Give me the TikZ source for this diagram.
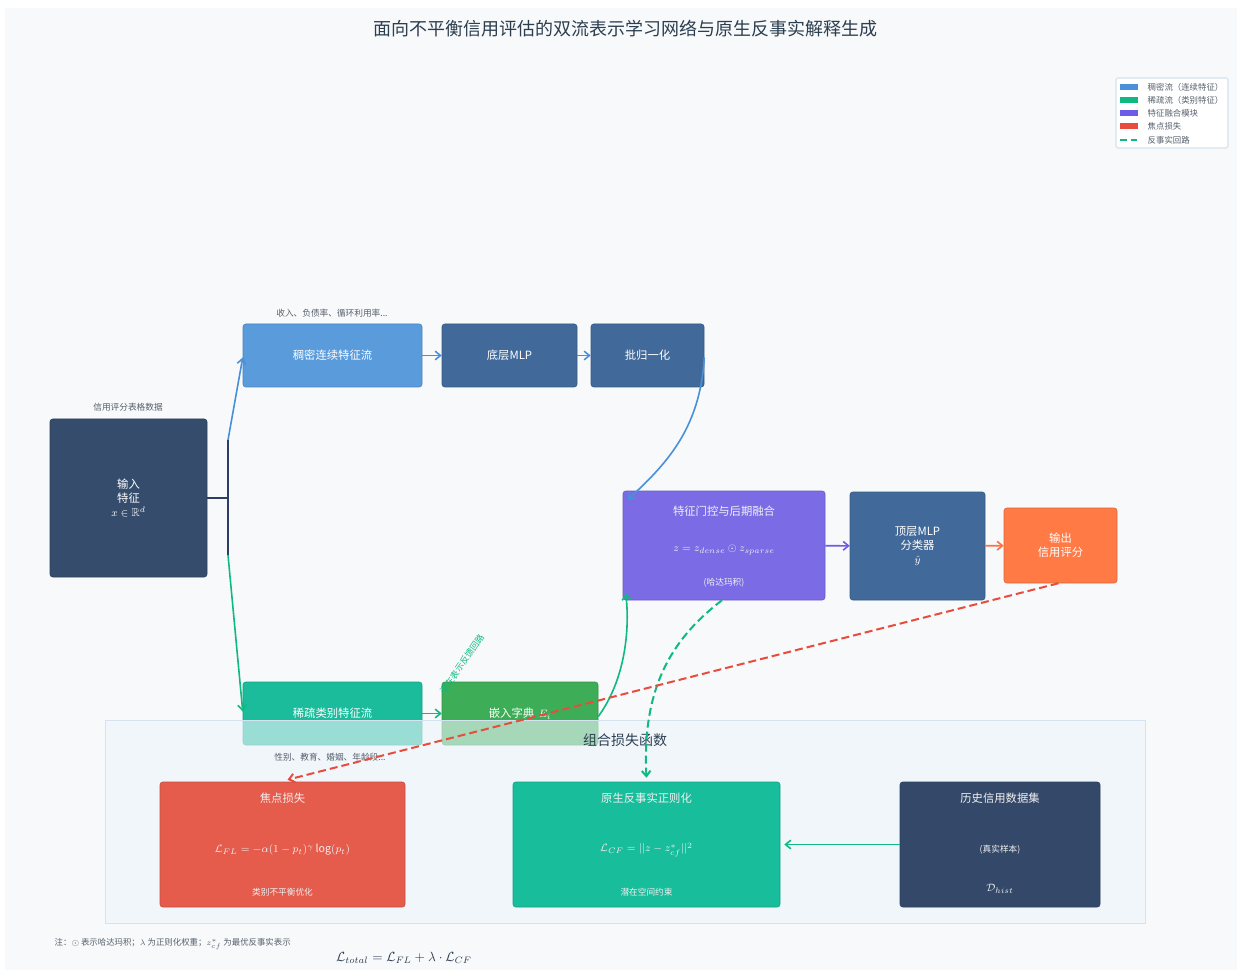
\documentclass[tikz,border=0pt]{standalone}
\usepackage{amsmath,amssymb}
\usepackage{fontspec}
\setmainfont{Noto Sans CJK SC}
\usetikzlibrary{arrows.meta,calc}
\def\PX{0.75pt}
\definecolor{bgc}{HTML}{F7F9FB}
\definecolor{titlec}{HTML}{2C3E50}
\definecolor{densec}{HTML}{5A9BDB}
\definecolor{mlpc}{HTML}{41699A}
\definecolor{inputc}{HTML}{354C6C}
\definecolor{fusec}{HTML}{7B6CE6}
\definecolor{outc}{HTML}{FF7A45}
\definecolor{sparsec}{HTML}{1ABC9C}
\definecolor{embedc}{HTML}{3DAD57}
\definecolor{focalc}{HTML}{E55B4C}
\definecolor{cfc}{HTML}{18BE9B}
\definecolor{histc}{HTML}{34496A}
\definecolor{panelc}{HTML}{EEF4FB}
\definecolor{panelb}{HTML}{D5E3F0}
\definecolor{ablue}{HTML}{4A90D9}
\definecolor{apurple}{HTML}{6C5CE7}
\definecolor{aorange}{HTML}{FF7043}
\definecolor{ateal}{HTML}{10B981}
\definecolor{ared}{HTML}{E74C3C}
\definecolor{navy}{HTML}{2C3E64}
\definecolor{graytxt}{HTML}{555F6B}
\tikzset{
  box/.style={rectangle, rounded corners=2pt, draw=#1!85!black, line width=0.4pt, fill=#1, text=white, align=center, font=\fontsize{8.5}{10.5}\selectfont},
  small/.style={text=graytxt, font=\fontsize{6.5}{8}\selectfont},
  inner/.style={text=white!94!black, align=center, font=\fontsize{8.5}{10.5}\selectfont},
  innersm/.style={text=white!94!black, align=center, font=\fontsize{6.5}{8}\selectfont},
  innermath/.style={text=white!94!black, align=center, font=\fontsize{8}{10}\selectfont},
  arr/.style={line width=1.2pt, -{Straight Barb[length=4pt,width=6.5pt]}},
  legtxt/.style={anchor=west, text=graytxt, font=\fontsize{6.3}{7.5}\selectfont},
}
\begin{document}
\begin{tikzpicture}[x=\PX,y=-\PX]
\useasboundingbox (0,0) rectangle (1239,973);
\fill[white] (0,0) rectangle (1239,973);
\fill[bgc] (5,8) rectangle (1237,970);

% title
\node[text=titlec, font=\fontsize{13.5}{16}\selectfont] (title) at (625,29) {面向不平衡信用评估的双流表示学习网络与原生反事实解释生成};

% legend
\node[draw=panelb, fill=white, rounded corners=1.5pt, line width=0.8pt, minimum width=112*\PX, minimum height=70*\PX] (legend) at (1172,113) {};
\foreach \y/\c/\t in {87/ablue/稠密流（连续特征）,100/ateal/稀疏流（类别特征）,113/apurple/特征融合模块,126/ared/焦点损失}{
  \fill[\c] (1120,\y-3) rectangle (1138,\y+3);
  \node[legtxt] at (1143,\y) {\t};
}
\draw[ateal, line width=1.6pt, dash pattern=on 5pt off 3pt] (1120,140) -- (1138,140);
\node[legtxt] (legl) at (1143,140) {反事实回路};

% input
\node[box=inputc, minimum width=157*\PX, minimum height=158*\PX] (inp) at (128.5,498) {输入\\特征\\$\displaystyle x \in \mathbb{R}^d$};
\node[small] (inplbl) at (128,407) {信用评分表格数据};

% dense stream
\node[box=densec, minimum width=179*\PX, minimum height=63*\PX] (dense) at (332.5,355.5) {稠密连续特征流};
\node[small] (denselbl) at (332,313) {收入、负债率、循环利用率...};
\node[box=mlpc, minimum width=135*\PX, minimum height=63*\PX] (bmlp) at (509.5,355.5) {底层MLP};
\node[box=mlpc, minimum width=113*\PX, minimum height=63*\PX] (bn) at (647.5,355.5) {批归一化};

% fusion / classifier / output
\node[box=fusec, minimum width=202*\PX, minimum height=109*\PX] (fuse) at (724,545.5) {};
\node[inner] (fuset) at (724,511) {特征门控与后期融合};
\node[innermath] (fusef) at (724,550) {$z = z_{dense} \odot z_{sparse}$};
\node[innersm] (fuses) at (724,583) {(哈达玛积)};
\node[box=mlpc, minimum width=135*\PX, minimum height=108*\PX] (tmlp) at (917.5,546) {顶层MLP\\分类器\\$\hat{y}$};
\node[box=outc, minimum width=113*\PX, minimum height=75*\PX] (out) at (1060.5,545.5) {输出\\信用评分};

% sparse stream
\node[box=sparsec, minimum width=179*\PX, minimum height=63*\PX] (sparse) at (332.5,713.5) {稀疏类别特征流};
\node[box=embedc, minimum width=156*\PX, minimum height=63*\PX] (embed) at (520,713.5) {嵌入字典 \,$E_i$};

% branch
\coordinate (bj) at (228,498);
\coordinate (btop) at (228,440);
\coordinate (bbot) at (228,555);
\draw[navy, line width=1.4pt] (inp.east) -- (bj);
\draw[navy, line width=1.4pt] (btop) -- (bbot);
\draw[arr, ablue] (btop) -- ($(dense.west)+(0,2)$);
\draw[arr, ateal] (bbot) -- ($(sparse.west)+(0,-2)$);

% stream arrows
\draw[arr, ablue] (dense) -- (bmlp);
\draw[arr, ablue] (bmlp) -- (bn);
\draw[arr, ablue] ($(bn.east)+(0,2)$) .. controls (700,430) and (665,465) .. ($(fuse.north west)+(5,9)$);
\draw[arr, ateal] (sparse) -- (embed);
\draw[arr, ateal] ($(embed.east)+(0,3)$) .. controls (625,680) and (630,630) .. ($(fuse.south west)+(3,-7)$);
\draw[arr, apurple] (fuse) -- (tmlp);
\draw[arr, aorange] (tmlp) -- (out);

% loss panel
\fill[panelc, fill opacity=0.6] (105,720) rectangle (1145,923);
\draw[panelb, line width=0.6pt] (105,720) rectangle (1145,923);
\node[text=titlec, font=\fontsize{10.5}{12}\selectfont] (paneltitle) at (625,740) {组合损失函数};
\node[small] (sparselbl) at (330,757) {性别、教育、婚姻、年龄段...};

\node[box=focalc, minimum width=245*\PX, minimum height=125*\PX] (focal) at (282.5,844.5) {};
\node[inner] (focalt) at (282.5,798) {焦点损失};
\node[innermath] (focalf) at (282.5,850) {$\mathcal{L}_{FL} = -\alpha(1-p_t)^{\gamma}\log(p_t)$};
\node[innersm] (focals) at (282.5,892) {类别不平衡优化};

\node[box=cfc, minimum width=267*\PX, minimum height=125*\PX] (cf) at (646.5,844.5) {};
\node[inner] (cft) at (646.5,798) {原生反事实正则化};
\node[innermath] (cff) at (646.5,850) {$\mathcal{L}_{CF} = ||z - z^{*}_{cf}||^2$};
\node[innersm] (cfs) at (646.5,892) {潜在空间约束};

\node[box=histc, minimum width=200*\PX, minimum height=125*\PX] (hist) at (1000,844.5) {};
\node[inner] (histt) at (1000,798) {历史信用数据集};
\node[innersm] (hists) at (1000,850) {(真实样本)};
\node[inner] (histf) at (1000,889) {$\mathcal{D}_{hist}$};

\draw[arr, ateal] (hist) -- ($(cf.east)+(4,0)$);

% counterfactual loop
\draw[ateal, line width=1.5pt, dash pattern=on 6pt off 3pt, -{Straight Barb[length=4pt,width=6.5pt]}] ($(fuse.south)+(-2,0)$) .. controls (670,640) and (642,690) .. ($(cf.north)+(0,-4)$);
\node[text=ateal, rotate=55, font=\fontsize{6.5}{8}\selectfont] (looplbl) at (462,664) {潜在表示反馈回路};

% focal loss dashed
\draw[ared, line width=1.5pt, dash pattern=on 6pt off 3pt, -{Straight Barb[length=4pt,width=6.5pt]}] ($(out.south)+(-2,0)$) -- ($(focal.north)+(5,-2)$);

% notes
\node[anchor=west, text=graytxt, font=\fontsize{6.3}{7.5}\selectfont] (note) at (50,944) {注：$\odot$ 表示哈达玛积；$\lambda$ 为正则化权重；$z^{*}_{cf}$ 为最优反事实表示};
\node[text=titlec, font=\fontsize{10}{12}\selectfont] (total) at (404,958) {$\mathcal{L}_{total} = \mathcal{L}_{FL} + \lambda \cdot \mathcal{L}_{CF}$};
\end{tikzpicture}
\end{document}
